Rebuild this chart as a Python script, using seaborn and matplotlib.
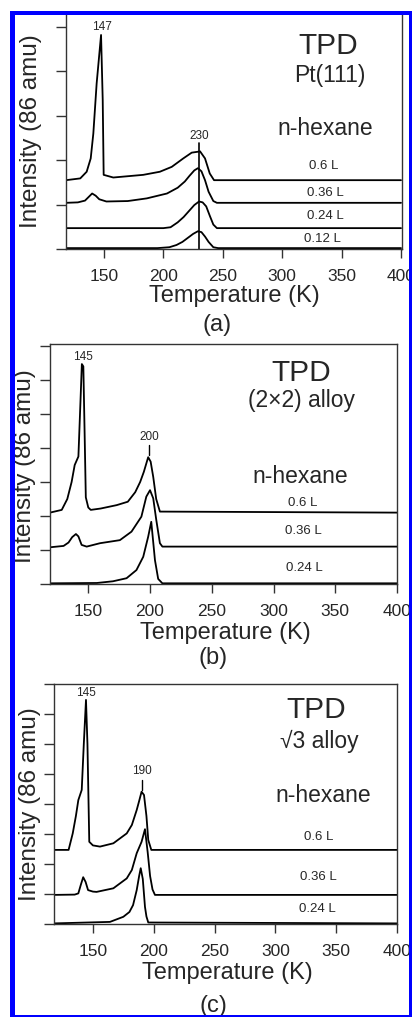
import numpy as np
import pandas as pd
import matplotlib
matplotlib.use("Agg")
import matplotlib.pyplot as plt
from matplotlib.patches import Rectangle
import seaborn as sns

sns.set_style("ticks")
plt.rcParams['font.family'] = ['Liberation Sans', 'DejaVu Sans']

# ---------------- data ----------------
# Panel (a) Pt(111)
a_T_012 = [118, 195, 205, 211, 216, 220, 225, 229, 232, 235, 238, 242, 246, 400]
a_I_012 = [0.02, 0.02, 0.04, 0.09, 0.16, 0.24, 0.34, 0.40, 0.38, 0.28, 0.16, 0.04, 0.02, 0.02]
a_T_024 = [118, 200, 206, 212, 217, 221, 226, 230, 233, 236, 239, 242, 245, 400]
a_I_024 = [0.47, 0.47, 0.49, 0.60, 0.72, 0.84, 0.99, 1.07, 1.05, 0.96, 0.75, 0.55, 0.47, 0.47]
a_T_036 = [118, 128, 134, 137, 140, 143, 146, 152, 170, 186, 203, 212, 218, 222, 226, 229, 232, 235, 238, 242, 245, 400]
a_I_036 = [1.04, 1.05, 1.09, 1.17, 1.25, 1.20, 1.12, 1.07, 1.08, 1.14, 1.25, 1.38, 1.52, 1.65, 1.77, 1.82, 1.75, 1.55, 1.29, 1.08, 1.04, 1.04]
a_T_06 = [118, 130, 135.4, 138.8, 141, 143.8, 147.5, 148.9, 149.7, 157.8, 183, 197, 207, 216.7, 223.8, 228.9, 230.8, 235, 239, 242.6, 400]
a_I_06 = [1.55, 1.59, 1.74, 2.04, 2.60, 3.73, 4.82, 3.36, 1.67, 1.61, 1.67, 1.74, 1.85, 2.04, 2.17, 2.19, 2.20, 2.04, 1.70, 1.55, 1.55]

# Panel (b) (2x2) alloy
b_T_024 = [119, 157, 170, 181, 189, 194.5, 198.5, 201, 204, 206.6, 210, 400]
b_I_024 = [0.02, 0.03, 0.08, 0.17, 0.41, 0.80, 1.39, 1.83, 0.70, 0.15, 0.02, 0.02]
b_T_036 = [119, 130, 134, 137, 140, 142, 144.6, 148.7, 159.5, 175.6, 185, 193, 197, 200, 202.6, 205, 208, 210, 400]
b_I_036 = [1.08, 1.12, 1.22, 1.38, 1.47, 1.40, 1.15, 1.10, 1.20, 1.29, 1.54, 1.98, 2.57, 2.76, 2.52, 1.90, 1.20, 1.10, 1.10]
b_T_06 = [119, 128.5, 133, 136.5, 139, 142, 143.5, 144.8, 146, 147, 148, 150, 152, 160, 173, 182, 188, 192, 195, 198.5, 200.5, 202.6, 205, 208, 400]
b_I_06 = [2.10, 2.18, 2.50, 3.00, 3.50, 3.75, 5.20, 6.47, 6.40, 4.50, 2.55, 2.25, 2.18, 2.22, 2.32, 2.42, 2.70, 3.00, 3.30, 3.73, 3.60, 3.15, 2.50, 2.13, 2.10]

# Panel (c) sqrt3 alloy
c_T_024 = [118, 164, 175, 180, 183, 186, 188, 189.3, 191, 192.8, 194, 195.5, 400]
c_I_024 = [0.02, 0.07, 0.24, 0.40, 0.63, 1.13, 1.60, 1.86, 1.50, 0.57, 0.25, 0.05, 0.02]
c_T_036 = [118, 135, 138, 140, 142, 144, 146, 150, 153, 166.8, 177.8, 182, 186, 190, 192.8, 195, 197, 199, 201, 400]
c_I_036 = [0.97, 0.98, 1.02, 1.30, 1.56, 1.40, 1.13, 1.08, 1.07, 1.19, 1.52, 1.80, 2.36, 2.74, 3.16, 2.40, 1.60, 1.15, 0.97, 0.97]
c_T_06 = [118, 130, 133.4, 136, 138, 140.8, 142.5, 144.3, 145.5, 147, 150, 155.8, 166.8, 177.8, 182, 186, 188, 190, 192, 194, 195.5, 198, 400]
c_I_06 = [2.47, 2.47, 3.02, 3.60, 4.13, 4.47, 6.00, 7.47, 6.00, 2.74, 2.62, 2.58, 2.69, 3.02, 3.30, 3.80, 4.10, 4.41, 4.30, 3.60, 2.80, 2.47, 2.47]

x_ticks = [150, 200, 250, 300, 350, 400]
x_ticklabels = ["150", "200", "250", "300", "350", "400"]
dose_labels_a = ["0.6 L", "0.36 L", "0.24 L", "0.12 L"]
dose_labels_bc = ["0.6 L", "0.36 L", "0.24 L"]
surfaces = ["Pt(111)", "(2×2) alloy", "√3 alloy"]
panel_letters = ["(a)", "(b)", "(c)"]
peak_low = [147, 145, 145]
peak_high = [230, 200, 190]

# ---------------- figure ----------------
W, H = 412, 1017
fig = plt.figure(figsize=(W / 100, H / 100), dpi=100)
fig.patch.set_facecolor("white")


def ax_at(l, t, r, b):
    return fig.add_axes([l / W, 1 - b / H, (r - l) / W, (b - t) / H])


def style(ax, xlim, ylim, nyt, top=True):
    ax.set_xlim(*xlim)
    ax.set_ylim(*ylim)
    ax.set_xticks(x_ticks)
    ax.set_xticklabels(x_ticklabels)
    ax.set_yticks(list(range(nyt)))
    ax.set_yticklabels([])
    ax.tick_params(axis='x', direction='out', length=6.5, width=1.0, pad=8.0,
                   labelsize=12.5, color='#333333')
    ax.tick_params(axis='y', direction='out', length=7.2, width=1.0, color='#333333')
    for s in ['left', 'right', 'bottom', 'top']:
        ax.spines[s].set_visible(True)
        ax.spines[s].set_color('#333333')
        ax.spines[s].set_linewidth(1.0)
    if not top:
        ax.spines['top'].set_visible(False)
    ax.set_xlabel("")
    ax.set_ylabel("")


def curve(ax, T, I):
    df = pd.DataFrame({"T": T, "I": I})
    sns.lineplot(data=df, x="T", y="I", ax=ax, color='black', lw=1.3,
                 estimator=None, sort=False)


PK = 8.5   # peak label size
DL = 9.5   # dose label size

# Panel a
axa = ax_at(66, 15, 402, 249)
for T, I in [(a_T_012, a_I_012), (a_T_024, a_I_024), (a_T_036, a_I_036), (a_T_06, a_I_06)]:
    curve(axa, T, I)
style(axa, (118, 400.8), (0, 5.27), 6, top=False)
axa.plot([229.6, 229.6], [0.0, 2.39], color='black', lw=1.2)
axa.text(148, 5.01, str(peak_low[0]), ha='center', va='center', fontsize=PK)
axa.text(229.8, 2.54, str(peak_high[0]), ha='center', va='center', fontsize=PK)
axa.text(338.5, 4.57, "TPD", ha='center', va='center', fontsize=21.5)
axa.text(340, 3.90, surfaces[0], ha='center', va='center', fontsize=16.5)
axa.text(336.6, 2.72, "n-hexane", ha='center', va='center', fontsize=16.5)
for lab, yy, xx in zip(dose_labels_a, [1.86, 1.26, 0.75, 0.22], [335, 336, 336, 334]):
    axa.text(xx, yy, lab, ha='center', va='center', fontsize=DL)

# Panel b
axb = ax_at(50, 344, 397, 584)
for T, I in [(b_T_024, b_I_024), (b_T_036, b_I_036), (b_T_06, b_I_06)]:
    curve(axb, T, I)
style(axb, (119, 400), (0, 7.06), 8)
axb.plot([199.3, 199.3], [3.79, 4.09], color='black', lw=1.0)
axb.text(145.5, 6.69, str(peak_low[1]), ha='center', va='center', fontsize=PK)
axb.text(199.3, 4.31, str(peak_high[1]), ha='center', va='center', fontsize=PK)
axb.text(322.6, 6.20, "TPD", ha='center', va='center', fontsize=21.5)
axb.text(322.6, 5.41, surfaces[1], ha='center', va='center', fontsize=16.5)
axb.text(321.3, 3.15, "n-hexane", ha='center', va='center', fontsize=16.5)
for lab, yy, xx in zip(dose_labels_bc, [2.37, 1.56, 0.48], [323.4, 324, 324.7]):
    axb.text(xx, yy, lab, ha='center', va='center', fontsize=DL)

# Panel c
axc = ax_at(54, 684, 397, 924)
for T, I in [(c_T_024, c_I_024), (c_T_036, c_I_036), (c_T_06, c_I_06)]:
    curve(axc, T, I)
style(axc, (118, 400), (0, 8.0), 9)
axc.plot([190.1, 190.1], [4.47, 4.80], color='black', lw=1.0)
axc.text(144.3, 7.71, str(peak_low[2]), ha='center', va='center', fontsize=PK)
axc.text(190.1, 5.11, str(peak_high[2]), ha='center', va='center', fontsize=PK)
axc.text(334, 7.14, "TPD", ha='center', va='center', fontsize=21.5)
axc.text(336.2, 6.08, surfaces[2], ha='center', va='center', fontsize=16.5,
         family=['Liberation Sans', 'DejaVu Sans'])
axc.text(339, 4.29, "n-hexane", ha='center', va='center', fontsize=16.5)
for lab, yy, xx in zip(dose_labels_bc, [2.90, 1.57, 0.49], [335.4, 335.4, 334.5]):
    axc.text(xx, yy, lab, ha='center', va='center', fontsize=DL)


# Axis labels and panel letters (figure pixel coords)
def ftext(x, y, s, **kw):
    fig.text(x / W, 1 - y / H, s, **kw)


for (xl, yl), (xt, yt) in zip(
        [(31.5, 131), (25, 466), (30, 804)],
        [(234, 296), (225, 633.5), (227, 973.5)]):
    ftext(xl, yl, "Intensity (86 amu)", rotation=90, ha='center', va='center', fontsize=17.5)
    ftext(xt, yt, "Temperature (K)", ha='center', va='center', fontsize=17)
for (xp, yp), lab in zip([(217, 325), (213, 658), (213, 1006)], panel_letters):
    ftext(xp, yp, lab, ha='center', va='center', fontsize=17)

# Blue frame
blue = '#0000FF'


def band(x0, y0, x1, y1):
    fig.patches.append(Rectangle((x0 / W, 1 - y1 / H), (x1 - x0) / W, (y1 - y0) / H,
                                 transform=fig.transFigure, facecolor=blue,
                                 edgecolor='none', zorder=100))


band(10, 11, 412, 15)      # top
band(10, 11, 15, 1017)     # left
band(409, 11, 412, 1017)   # right
band(10, 1015, 412, 1017)  # bottom

fig.savefig("out.png", dpi=100, facecolor='white')
